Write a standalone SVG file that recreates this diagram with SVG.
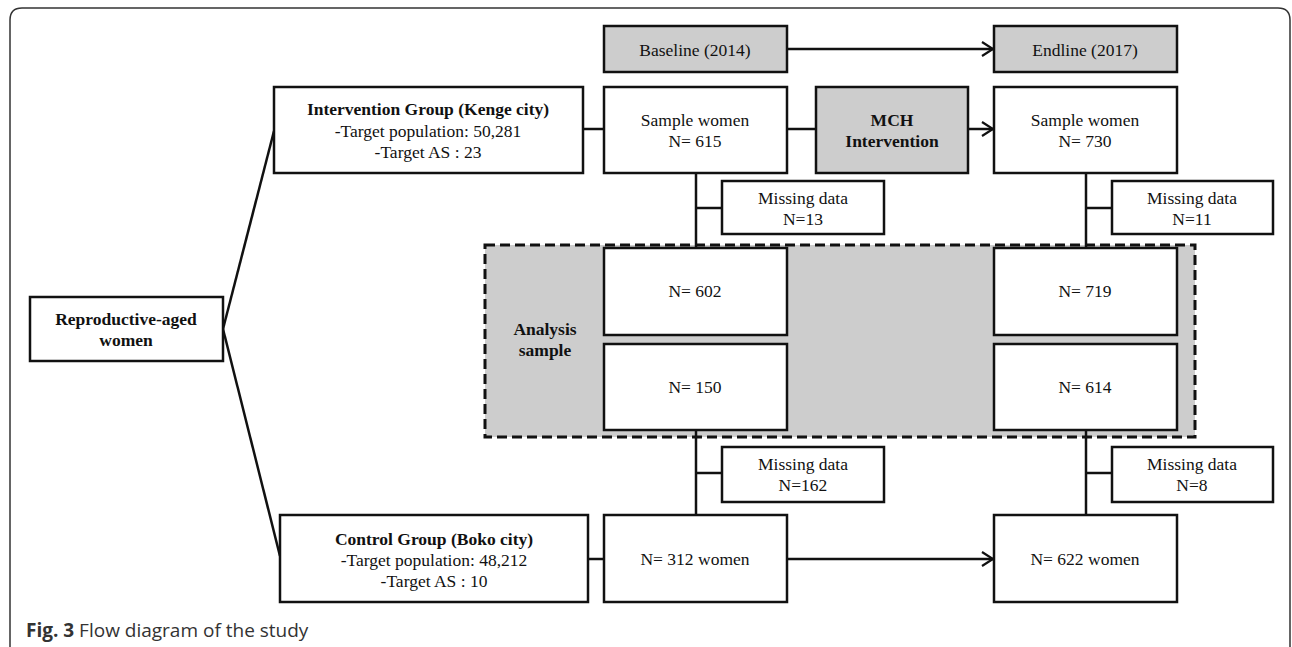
<svg xmlns="http://www.w3.org/2000/svg" width="1292" height="647" viewBox="0 0 1292 647">
<style>
.box{fill:#fff;stroke:#111;stroke-width:2.5}
.gray{fill:#cdcdcd;stroke:#111;stroke-width:2.5}
.t{font-family:"Liberation Serif","Times New Roman",serif;font-size:17.5px;fill:#111;text-anchor:middle}
.b{font-weight:bold}
.ln{stroke:#111;stroke-width:2.5;fill:none}
.cap{font-family:"Open Sans",sans-serif;font-size:19px;fill:#333}
</style>
<defs>
<marker id="arr" markerWidth="14" markerHeight="18" refX="12" refY="9" orient="auto" markerUnits="userSpaceOnUse">
<path d="M1,2 L12,9 L1,16" fill="none" stroke="#111" stroke-width="2.2"/>
</marker>
</defs>
<rect width="1292" height="647" fill="#fff"/>
<path d="M10,660 L10,20 Q10,8 22,8 L1278,8 Q1290,8 1290,20 L1290,660" fill="none" stroke="#333" stroke-width="1.5"/>

<g id="analysis">
<rect x="485" y="245" width="710" height="192" fill="#cdcdcd" stroke="#111" stroke-width="3" stroke-dasharray="10,5"/>
<text class="t b" x="545" y="335">Analysis</text>
<text class="t b" x="545" y="356">sample</text>
</g>

<g id="connectors">
<line class="ln" x1="223" y1="329" x2="274" y2="131"/>
<line class="ln" x1="223" y1="329" x2="280" y2="556"/>
<line class="ln" x1="583" y1="129" x2="604" y2="129"/>
<line class="ln" x1="787" y1="129" x2="816" y2="129"/>
<line class="ln" x1="968" y1="129" x2="993" y2="129" marker-end="url(#arr)"/>
<line class="ln" x1="787" y1="49" x2="993" y2="49" marker-end="url(#arr)"/>
<line class="ln" x1="696" y1="173" x2="696" y2="248"/>
<line class="ln" x1="696" y1="208" x2="722" y2="208"/>
<line class="ln" x1="1086" y1="173" x2="1086" y2="248"/>
<line class="ln" x1="1086" y1="208" x2="1112" y2="208"/>
<line class="ln" x1="696" y1="430" x2="696" y2="515"/>
<line class="ln" x1="696" y1="473" x2="722" y2="473"/>
<line class="ln" x1="1086" y1="430" x2="1086" y2="515"/>
<line class="ln" x1="1086" y1="473" x2="1112" y2="473"/>
<line class="ln" x1="588" y1="559" x2="604" y2="559"/>
<line class="ln" x1="787" y1="559" x2="993" y2="559" marker-end="url(#arr)"/>
</g>

<g id="reproductive">
<rect class="box" x="30" y="297" width="193" height="64"/>
<text class="t b" x="126" y="325">Reproductive-aged</text>
<text class="t b" x="126" y="346">women</text>
</g>

<g id="intervention">
<rect class="box" x="274" y="87" width="309" height="86"/>
<text class="t b" x="428" y="115">Intervention Group (Kenge city)</text>
<text class="t" x="428" y="137">-Target population: 50,281</text>
<text class="t" x="428" y="158">-Target AS : 23</text>
</g>

<g id="control">
<rect class="box" x="280" y="515" width="308" height="87"/>
<text class="t b" x="434" y="545">Control Group (Boko city)</text>
<text class="t" x="434" y="566">-Target population: 48,212</text>
<text class="t" x="434" y="587">-Target AS : 10</text>
</g>

<g id="baseline">
<rect class="gray" x="604" y="26" width="183" height="46"/>
<text class="t" x="695" y="56">Baseline (2014)</text>
</g>

<g id="endline">
<rect class="gray" x="994" y="26" width="183" height="46"/>
<text class="t" x="1085" y="56">Endline (2017)</text>
</g>

<g id="sample615">
<rect class="box" x="604" y="87" width="183" height="86"/>
<text class="t" x="695" y="126">Sample women</text>
<text class="t" x="695" y="147">N= 615</text>
</g>

<g id="mch">
<rect class="gray" x="816" y="87" width="152" height="86"/>
<text class="t b" x="892" y="126">MCH</text>
<text class="t b" x="892" y="147">Intervention</text>
</g>

<g id="sample730">
<rect class="box" x="994" y="87" width="183" height="86"/>
<text class="t" x="1085" y="126">Sample women</text>
<text class="t" x="1085" y="147">N= 730</text>
</g>

<g id="missing13">
<rect class="box" x="722" y="181" width="162" height="53"/>
<text class="t" x="803" y="204">Missing data</text>
<text class="t" x="803" y="225">N=13</text>
</g>

<g id="missing11">
<rect class="box" x="1112" y="181" width="161" height="53"/>
<text class="t" x="1192" y="204">Missing data</text>
<text class="t" x="1192" y="225">N=11</text>
</g>

<g id="n602">
<rect class="box" x="604" y="248" width="183" height="87"/>
<text class="t" x="695" y="297">N= 602</text>
</g>

<g id="n150">
<rect class="box" x="604" y="344" width="183" height="86"/>
<text class="t" x="695" y="393">N= 150</text>
</g>

<g id="n719">
<rect class="box" x="994" y="248" width="183" height="87"/>
<text class="t" x="1085" y="297">N= 719</text>
</g>

<g id="n614">
<rect class="box" x="994" y="344" width="183" height="86"/>
<text class="t" x="1085" y="393">N= 614</text>
</g>

<g id="missing162">
<rect class="box" x="722" y="447" width="162" height="55"/>
<text class="t" x="803" y="470">Missing data</text>
<text class="t" x="803" y="491">N=162</text>
</g>

<g id="missing8">
<rect class="box" x="1112" y="447" width="161" height="55"/>
<text class="t" x="1192" y="470">Missing data</text>
<text class="t" x="1192" y="491">N=8</text>
</g>

<g id="n312">
<rect class="box" x="604" y="515" width="183" height="87"/>
<text class="t" x="695" y="565">N= 312 women</text>
</g>

<g id="n622">
<rect class="box" x="994" y="515" width="183" height="87"/>
<text class="t" x="1085" y="565">N= 622 women</text>
</g>

<text class="cap" x="26" y="637"><tspan font-weight="bold">Fig. 3</tspan> Flow diagram of the study</text>
</svg>
